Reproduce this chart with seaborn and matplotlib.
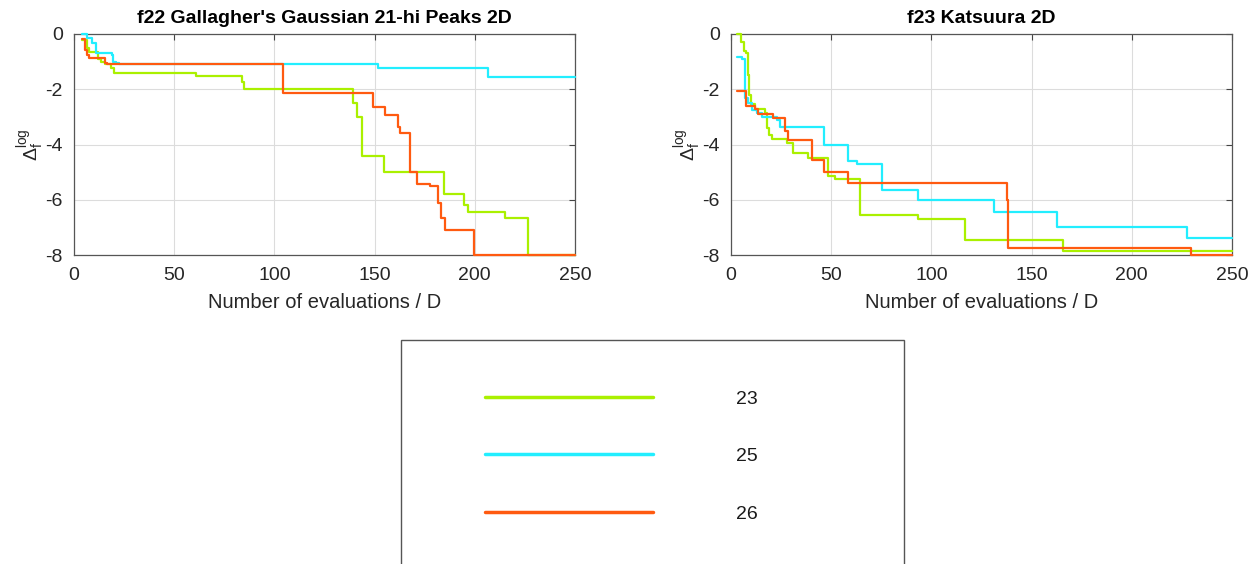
import matplotlib
matplotlib.use("Agg")
import matplotlib.pyplot as plt
from matplotlib.patches import Rectangle
from matplotlib.lines import Line2D
import seaborn as sns
import pandas as pd

# ---------------- data ----------------
series_labels = ["23", "25", "26"]
series_colors = ["#aaf000", "#22eeff", "#ff5a10"]

titles = ["f22 Gallagher's Gaussian 21-hi Peaks 2D", "f23 Katsuura 2D"]
x_ticks = [0, 50, 100, 150, 200, 250]
y_ticks = [-8, -6, -4, -2, 0]
x_label = "Number of evaluations / D"
y_label = r"$\Delta_\mathrm{f}^\mathrm{log}$"

# f22 (left panel), step change points
f22_x_23 = [3.8, 6.3, 7.6, 12.1, 13.5, 15.3, 18.4, 20.0, 23.4, 60.9, 83.7, 84.9, 139.0, 141.0, 143.5, 154.5, 184.5, 194.5, 196.8, 215.0, 226.5, 250.0]
f22_y_23 = [-0.2, -0.5, -0.64, -0.9, -1.03, -1.1, -1.24, -1.4, -1.42, -1.52, -1.75, -2.0, -2.5, -3.0, -4.4, -5.0, -5.8, -6.2, -6.45, -6.66, -8.0, -8.0]
f22_x_25 = [3.8, 6.5, 8.8, 11.0, 18.8, 19.7, 21.0, 22.5, 151.9, 206.6, 250.0]
f22_y_25 = [0.0, -0.15, -0.34, -0.68, -0.75, -1.0, -1.05, -1.1, -1.22, -1.57, -1.57]
f22_x_26 = [3.8, 5.5, 6.5, 7.6, 15.5, 16.3, 104.1, 149.0, 155.2, 161.5, 162.5, 167.5, 171.0, 177.5, 181.5, 183.3, 184.9, 199.5, 250.0]
f22_y_26 = [-0.18, -0.58, -0.75, -0.88, -1.06, -1.1, -2.15, -2.65, -2.93, -3.35, -3.6, -4.98, -5.43, -5.5, -6.1, -6.67, -7.08, -8.0, -8.0]

# f23 (right panel)
f23_x_23 = [3.2, 5.0, 6.5, 7.5, 8.5, 9.0, 10.0, 12.0, 17.0, 17.8, 19.0, 20.3, 28.0, 30.8, 38.6, 48.6, 51.9, 64.4, 93.5, 117.0, 165.5, 250.0]
f23_y_23 = [0.0, -0.3, -0.6, -0.7, -1.5, -2.2, -2.55, -2.7, -2.85, -3.4, -3.65, -3.8, -3.95, -4.3, -4.5, -5.15, -5.25, -6.55, -6.7, -7.45, -7.85, -7.85]
f23_x_25 = [3.2, 5.5, 7.0, 8.6, 10.3, 13.0, 15.3, 22.8, 24.5, 46.6, 58.5, 62.7, 75.2, 93.5, 116.0, 131.0, 162.5, 227.5, 250.0]
f23_y_25 = [-0.85, -0.9, -2.3, -2.5, -2.75, -2.85, -3.0, -3.1, -3.35, -4.0, -4.6, -4.7, -5.65, -6.0, -6.02, -6.45, -7.0, -7.4, -7.4]
f23_x_26 = [3.2, 7.5, 12.0, 13.6, 21.0, 27.0, 28.6, 40.3, 46.4, 58.2, 137.5, 138.4, 229.5, 250.0]
f23_y_26 = [-2.05, -2.6, -2.7, -2.9, -3.05, -3.5, -3.85, -4.55, -5.0, -5.4, -6.0, -7.75, -8.0, -8.0]

panels = [
    [(f22_x_23, f22_y_23), (f22_x_25, f22_y_25), (f22_x_26, f22_y_26)],
    [(f23_x_23, f23_y_23), (f23_x_25, f23_y_25), (f23_x_26, f23_y_26)],
]

# ---------------- style ----------------
sns.set_theme(style="white")
plt.rcParams["font.family"] = ["Liberation Sans", "DejaVu Sans"]
plt.rcParams["mathtext.fontset"] = "custom"
plt.rcParams["mathtext.rm"] = "Liberation Sans"
plt.rcParams["mathtext.it"] = "Liberation Sans:italic"
plt.rcParams["axes.unicode_minus"] = False

W, H = 1258, 564
fig = plt.figure(figsize=(W / 100, H / 100), dpi=100)

def fx(px):
    return px / W

def fy(py):
    return 1 - py / H

axes_left_px = [74, 731]
ax_w = fx(575 - 74)
ax_b = fy(255)
ax_h = fy(34) - fy(255)

palette = dict(zip(series_labels, series_colors))

for i, left_px in enumerate(axes_left_px):
    ax = fig.add_axes([fx(left_px), ax_b, ax_w, ax_h])
    rows = []
    for lab, (xs, ys) in zip(series_labels, panels[i]):
        for xv, yv in zip(xs, ys):
            rows.append({"x": xv, "y": yv, "series": lab})
    df = pd.DataFrame(rows)
    sns.lineplot(data=df, x="x", y="y", hue="series", palette=palette,
                 estimator=None, sort=False, drawstyle="steps-post",
                 linewidth=1.6, legend=False, ax=ax, clip_on=False, zorder=3)
    ax.set_xlim(0, 250)
    ax.set_ylim(-8, 0)
    ax.set_xticks(x_ticks)
    ax.set_yticks(y_ticks)
    ax.grid(True, color="#dcdcdc", linewidth=0.8)
    ax.set_axisbelow(True)
    ax.tick_params(direction="in", top=True, right=True, length=4,
                   width=0.8, color="#444444", labelsize=14,
                   labelcolor="#262626")
    ax.tick_params(axis="x", pad=9)
    ax.tick_params(axis="y", pad=8)
    for s in ax.spines.values():
        s.set_color("#555555")
        s.set_linewidth(0.9)
    ax.set_title(titles[i], fontsize=14, fontweight="bold", color="black", pad=8)
    ax.set_xlabel(x_label, fontsize=14.5, color="#262626", labelpad=6)
    ax.set_ylabel(y_label, fontsize=14, color="#262626", labelpad=-1)

# legend box
box = Rectangle((fx(401), fy(620)), fx(904) - fx(401), fy(340) - fy(620),
                transform=fig.transFigure, fill=False, edgecolor="#555555",
                linewidth=1.0, clip_on=False)
fig.add_artist(box)

handles = [Line2D([0], [0], color=c, linewidth=2.5) for c in series_colors]
fs = 14
fpx = fs * 100 / 72
fig.legend(handles, series_labels, loc="upper left",
           bbox_to_anchor=(fx(485), fy(390)), frameon=False,
           fontsize=fs, handlelength=168 / fpx,
           handletextpad=(736 - 653) / fpx,
           labelspacing=2.06, borderpad=0, borderaxespad=0,
           labelcolor="#1a1a1a")

fig.savefig("out.png", dpi=100)
